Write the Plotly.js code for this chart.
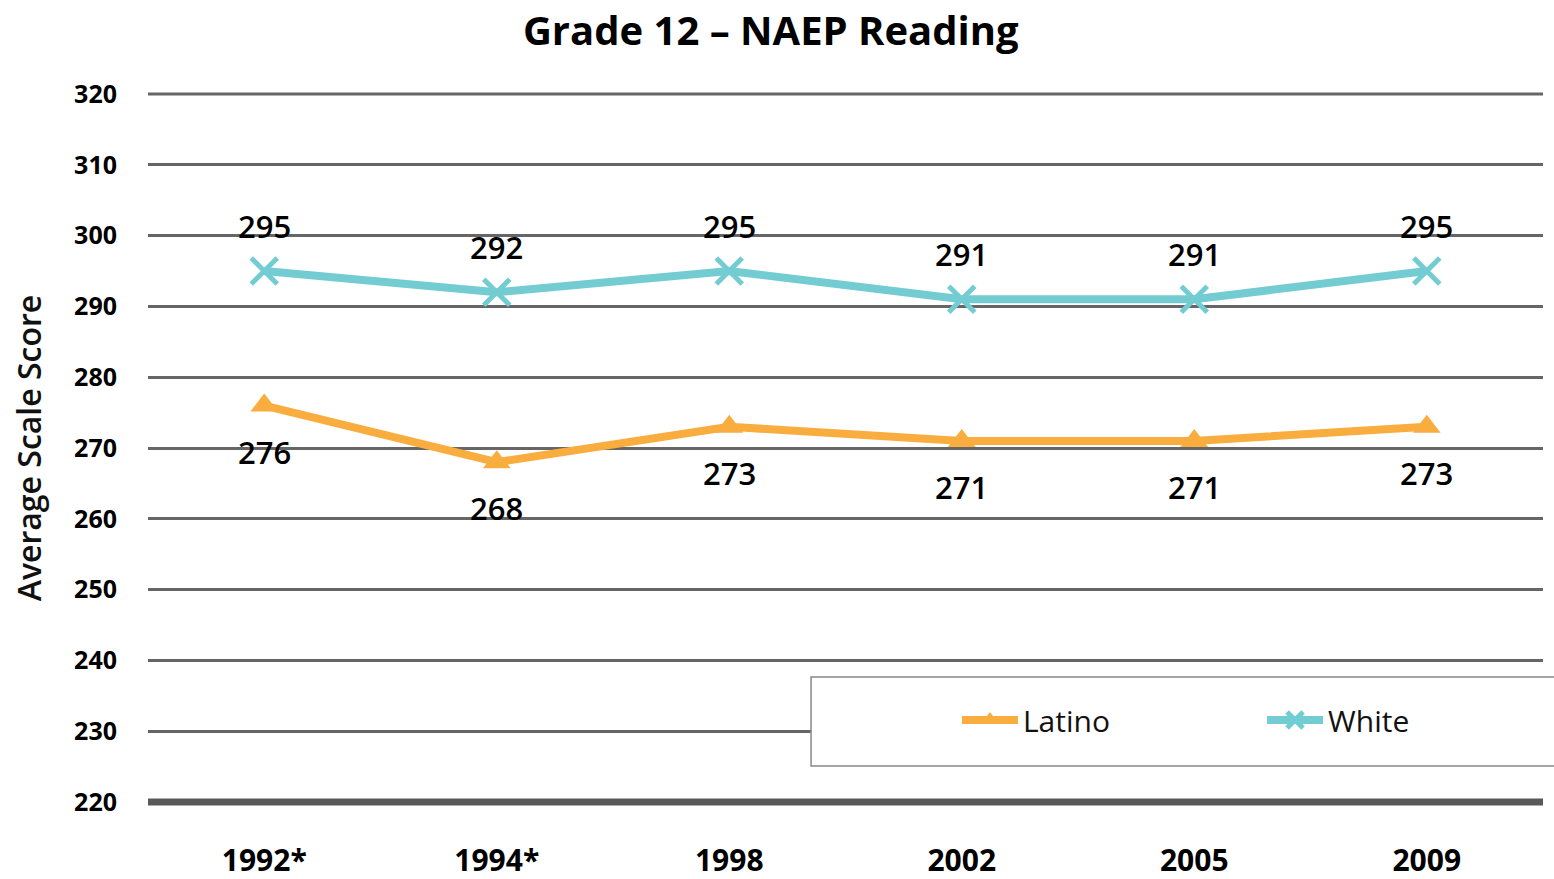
<!DOCTYPE html>
<html><head><meta charset="utf-8">
<script src="https://cdn.plot.ly/plotly-3.0.1.min.js"></script>
<style>html,body{margin:0;padding:0;background:#fff;}#chart{width:1554px;height:879px;}</style>
</head><body><div id="chart"></div>
<script>
const years = ["1992*", "1994*", "1998", "2002", "2005", "2009"];
const latino = [276, 268, 273, 271, 271, 273];
const white = [295, 292, 295, 291, 291, 295];
const yTicks = [220, 230, 240, 250, 260, 270, 280, 290, 300, 310, 320];

const font = '"Open Sans", Lato, sans-serif';

const traces = [
  {x: years, y: latino, name: 'Latino', type: 'scatter', mode: 'lines+markers', legend: 'legend',
   line: {color: '#F9AD3F', width: 8},
   marker: {symbol: 'triangle-up', size: 24, color: '#F9AD3F'}},
  {x: years, y: white, name: 'White', type: 'scatter', mode: 'lines+markers', legend: 'legend2',
   line: {color: '#72CCD2', width: 8},
   marker: {symbol: 'x-thin', size: 26, color: '#72CCD2', line: {color: '#72CCD2', width: 5}}}
];

const annotations = [];
years.forEach((yr, i) => {
  annotations.push({x: i, y: white[i], xref: 'x', yref: 'y', text: String(white[i]), showarrow: false,
    yshift: 45, font: {family: font, size: 31, color: '#000', weight: 600}});
  annotations.push({x: i, y: latino[i], xref: 'x', yref: 'y', text: String(latino[i]), showarrow: false,
    yshift: -46, font: {family: font, size: 31, color: '#000', weight: 600}});
});

const legendCommon = {orientation: 'h', xanchor: 'left', y: 0.1158, yanchor: 'middle',
  bgcolor: 'rgba(0,0,0,0)', borderwidth: 0, itemwidth: 56,
  font: {family: font, size: 30, color: '#111'}};

const layout = {
  width: 1554, height: 879,
  margin: {l: 148, r: 11, t: 94, b: 77},
  paper_bgcolor: '#fff', plot_bgcolor: '#fff',
  title: {text: 'Grade 12 – NAEP Reading', x: 0.496, xref: 'container', xanchor: 'center', y: 0.965, yref: 'container', yanchor: 'middle',
    font: {family: font, size: 40, color: '#000', weight: 'bold'}},
  xaxis: {type: 'category', range: [-0.5, 5.5], showgrid: false, zeroline: false, showline: false,
    ticks: '', tickfont: {family: font, size: 30, color: '#000', weight: 'bold'}, ticklabelstandoff: 38},
  yaxis: {range: [220, 320], tickvals: yTicks, showgrid: true, gridcolor: '#666', gridwidth: 3,
    zeroline: false, showline: false, ticks: '', ticklabelstandoff: 30,
    tickfont: {family: font, size: 25, color: '#000', weight: 'bold'},
    title: {text: 'Average Scale Score', standoff: 22, font: {family: font, size: 32, color: '#111', weight: 600}}},
  shapes: [
    {type: 'line', xref: 'paper', yref: 'paper', x0: 0, x1: 1, y0: 0, y1: 0, line: {color: '#595959', width: 7}},
    {type: 'line', xref: 'paper', yref: 'paper', x0: 0, x1: 1, y0: 1, y1: 1, line: {color: '#666', width: 3}},
    {type: 'rect', xref: 'paper', yref: 'paper', x0: 0.4753, x1: 1.03, y0: 0.0508, y1: 0.1766,
     line: {color: '#888', width: 1.5}, fillcolor: '#fff', layer: 'above'}
  ],
  legend: Object.assign({x: 0.5799}, legendCommon),
  legend2: Object.assign({x: 0.7986}, legendCommon),
  showlegend: true,
  annotations: annotations
};

Plotly.newPlot('chart', traces, layout, {displayModeBar: false, staticPlot: true});
</script>
</body></html>
